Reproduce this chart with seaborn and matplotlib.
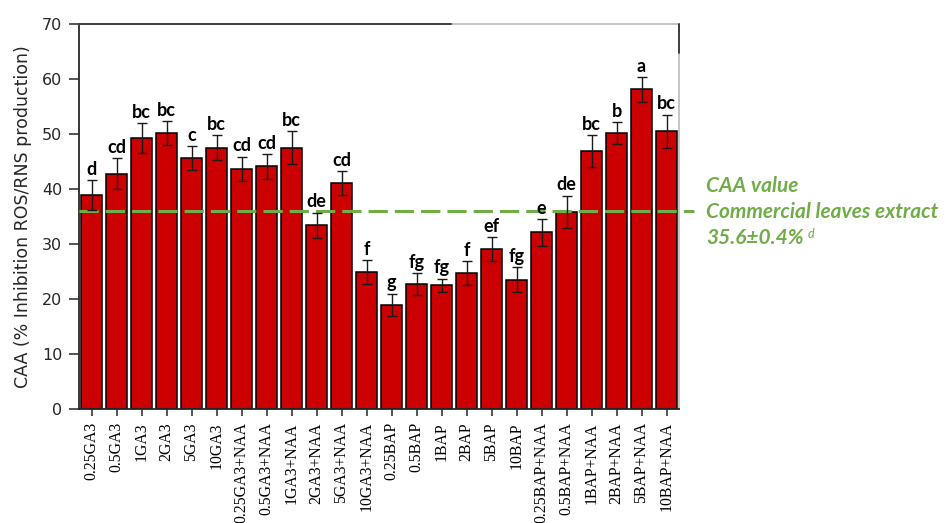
import numpy as np
import pandas as pd
import matplotlib
matplotlib.use("Agg")
import matplotlib.pyplot as plt
import seaborn as sns

# ---------------- data ----------------
categories = ["0.25GA3", "0.5GA3", "1GA3", "2GA3", "5GA3", "10GA3",
              "0.25GA3+NAA", "0.5GA3+NAA", "1GA3+NAA", "2GA3+NAA", "5GA3+NAA", "10GA3+NAA",
              "0.25BAP", "0.5BAP", "1BAP", "2BAP", "5BAP", "10BAP",
              "0.25BAP+NAA", "0.5BAP+NAA", "1BAP+NAA", "2BAP+NAA", "5BAP+NAA", "10BAP+NAA"]
caa_values = [38.9, 42.8, 49.3, 50.2, 45.6, 47.5,
              43.7, 44.1, 47.5, 33.4, 41.1, 24.9,
              19.0, 22.7, 22.5, 24.7, 29.1, 23.5,
              32.1, 35.9, 46.9, 50.1, 58.1, 50.5]
caa_errors = [2.7, 2.8, 2.7, 2.2, 2.2, 2.3,
              2.2, 2.2, 3.0, 2.3, 2.2, 2.2,
              2.0, 2.0, 1.2, 2.2, 2.2, 2.3,
              2.4, 2.9, 2.9, 2.0, 2.2, 3.0]
letters = ["d", "cd", "bc", "bc", "c", "bc",
           "cd", "cd", "bc", "de", "cd", "f",
           "g", "fg", "fg", "f", "ef", "fg",
           "e", "de", "bc", "b", "a", "bc"]
commercial_line = 36.0
ref_lines = ["CAA value", "Commercial leaves extract", "35.6\u00b10.4%"]
ref_sup = "d"
y_ticks = [0, 10, 20, 30, 40, 50, 60, 70]
y_label = "CAA (% Inhibition ROS/RNS production)"

df = pd.DataFrame({"treatment": categories, "caa": caa_values,
                   "err": caa_errors, "letter": letters})

# ---------------- style ----------------
sns.set_style("ticks")
plt.rcParams["font.family"] = ["DejaVu Sans"]

BAR_RED = "#CC0000"
GREEN = "#70AD47"
DARK = "#262626"

fig = plt.figure(figsize=(9.46, 5.23), dpi=100)
fig.patch.set_facecolor("white")
ax = fig.add_axes([79 / 946, 1 - 409 / 523, 600 / 946, 385 / 523])

sns.barplot(data=df, x="treatment", y="caa", order=categories, color=BAR_RED,
            saturation=1, width=0.81, edgecolor="black", linewidth=1.1,
            errorbar=None, ax=ax, zorder=2)

pos = np.arange(len(categories))
ax.errorbar(pos, df["caa"], yerr=df["err"], fmt="none", ecolor="#1a1a1a",
            elinewidth=1.0, capsize=3.8, capthick=1.0, zorder=5)

for x, v, e, lab in zip(pos, df["caa"], df["err"], df["letter"]):
    ax.annotate(lab, xy=(x, v + e), xytext=(0, 3.8), textcoords="offset points",
                ha="center", va="baseline", fontsize=13, family=["Lato", "DejaVu Sans"],
                fontweight="bold", color="black", zorder=6)

# commercial extract reference line (extends a little past the frame)
ax.axhline(commercial_line, xmin=0, xmax=1.025, color=GREEN, lw=2.2,
           dashes=(6.3, 2.3), clip_on=False, zorder=4)

ax.set_xlim(-0.5, len(categories) - 0.5)
ax.set_ylim(0, 70)
ax.set_yticks(y_ticks)
ax.set_xlabel("")
ax.set_ylabel(y_label, fontsize=12.5, color=DARK, labelpad=7)

ax.tick_params(axis="y", length=7.5, width=1.1, pad=4.5, labelsize=11.5,
               colors=DARK)
ax.tick_params(axis="x", length=5, width=1.1, pad=4.5, color=DARK)
ax.set_xticks(pos)
ax.set_xticklabels(categories, rotation=90, fontsize=11.3, family="Liberation Serif",
                   color="black", va="top", ha="center")

for side in ["left", "bottom"]:
    ax.spines[side].set_color(DARK)
    ax.spines[side].set_linewidth(1.3)
for side in ["top", "right"]:
    ax.spines[side].set_color("#b5b5b5")
    ax.spines[side].set_linewidth(1.1)
# darker parts of the scanned top/right frame
ax.plot([0, 0.62], [1, 1], transform=ax.transAxes, color="#333333", lw=1.3,
        clip_on=False, zorder=7)
ax.plot([1, 1], [0.925, 1], transform=ax.transAxes, color="#333333", lw=1.3,
        clip_on=False, zorder=7)

# green annotation text
tx = 706 / 946
baselines = [191.7, 217.7, 243.7]
txt = None
for s, yb in zip(ref_lines, baselines):
    txt = fig.text(tx, 1 - yb / 523, s, color=GREEN, fontsize=15,
                   family=["Lato", "DejaVu Sans"], fontweight="bold", style="italic",
                   ha="left", va="baseline")
ax.annotate(ref_sup, xy=(1, 1), xycoords=txt, xytext=(3, 0),
            textcoords="offset points", ha="left", va="top", fontsize=9,
            color=GREEN, family=["Lato", "DejaVu Sans"], style="italic",
            annotation_clip=False)

fig.savefig("out.png", dpi=100, facecolor="white")
